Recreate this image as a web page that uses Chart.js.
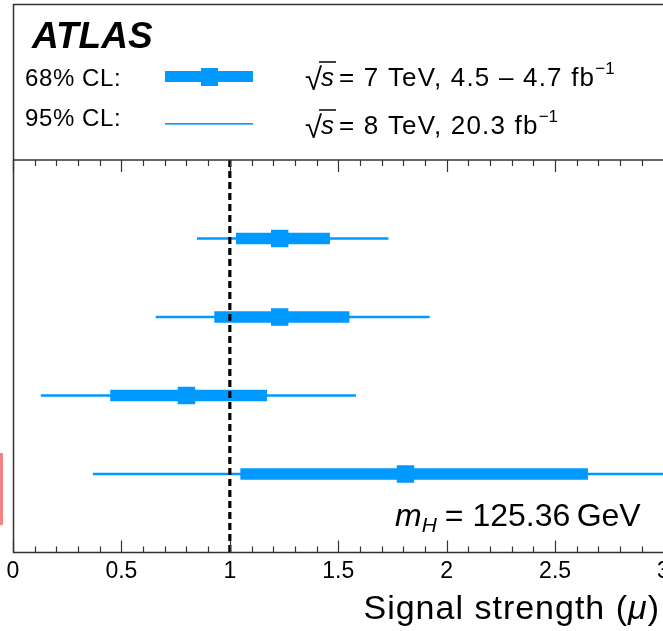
<!DOCTYPE html>
<html>
<head>
<meta charset="utf-8">
<script src="https://cdn.jsdelivr.net/npm/chart.js@4/dist/chart.umd.min.js"></script>
<style>
  html, body { margin: 0; padding: 0; background: #fff; overflow: hidden; }
  #wrap { position: relative; width: 680px; height: 631px; }
  #cut { position: absolute; left: 0; top: 453px; width: 3px; height: 72px; background: #f58383; }
</style>
</head>
<body>
<div id="wrap">
  <canvas id="chart"></canvas>
  <div id="cut"></div>
</div>
<script>
// Signal strengths per production mode (rows top to bottom)
const categories = ['ggF', 'VBF', 'VH', 'ttH'];
const mu = [1.23, 1.23, 0.80, 1.81];
const lo68 = [1.03, 0.93, 0.45, 1.05];
const hi68 = [1.46, 1.55, 1.17, 2.65];
const lo95 = [0.85, 0.66, 0.13, 0.37];
const hi95 = [1.73, 1.92, 1.58, 3.30];
const xTicks = [0, 0.5, 1, 1.5, 2, 2.5, 3];
const smRef = 1;

const BLUE = '#0099ff';
const FONT = '"Liberation Sans", Arial, Helvetica, sans-serif';

// frame, ticks and all the text around the plot
const decorations = {
    id: 'decorations',
    afterDraw(chart) {
        const ctx = chart.ctx;
        const area = chart.chartArea;
        const xs = chart.scales.x;
        ctx.save();

        // legend box + plot frame
        ctx.strokeStyle = '#333';
        ctx.lineWidth = 1.5;
        ctx.strokeRect(13.5, 4.5, 700, area.top - 4.5);
        ctx.beginPath();
        ctx.moveTo(13.5, area.top);
        ctx.lineTo(13.5, area.bottom);
        ctx.lineTo(chart.width, area.bottom);
        ctx.stroke();

        // minor and major ticks on top and bottom
        ctx.lineWidth = 1.2;
        for (let i = 0; i <= 30; i++) {
            const px = Math.round(xs.getPixelForValue(i / 10)) + 0.5;
            const len = i % 5 === 0 ? 12 : 6;
            ctx.beginPath();
            ctx.moveTo(px, area.bottom);
            ctx.lineTo(px, area.bottom - len);
            ctx.moveTo(px, area.top);
            ctx.lineTo(px, area.top + len);
            ctx.stroke();
        }

        ctx.fillStyle = '#000';
        ctx.textBaseline = 'alphabetic';
        ctx.textAlign = 'left';

        ctx.font = 'italic bold 37px ' + FONT;
        ctx.fillText('ATLAS', 32, 48);

        ctx.font = '24px ' + FONT;
        ctx.letterSpacing = '0.6px';
        ctx.fillText('68% CL:', 25, 86);
        ctx.fillText('95% CL:', 25, 126);
        ctx.letterSpacing = '0px';

        // legend symbols
        ctx.fillStyle = BLUE;
        ctx.fillRect(165, 71, 88, 11);
        ctx.fillRect(201, 68, 17, 18);
        ctx.fillRect(165, 123, 88, 1.6);

        ctx.fillStyle = '#000';
        drawSqrtLine(ctx, 305, 86, '7 TeV, 4.5 \u2013 4.7 fb');
        drawSqrtLine(ctx, 305, 134, '8 TeV, 20.3 fb');

        // m_H label
        let x = 395;
        const yb = 526;
        ctx.font = 'italic 32px ' + FONT;
        ctx.fillText('m', x, yb);
        x += ctx.measureText('m').width;
        ctx.font = 'italic 21px ' + FONT;
        ctx.fillText('H', x, yb + 6);
        x += ctx.measureText('H').width + 8;
        ctx.font = '32px ' + FONT;
        ctx.fillText('= 125.36\u2009GeV', x, yb);

        // axis title, right aligned
        ctx.letterSpacing = '1px';
        const t1 = 'Signal strength (';
        ctx.font = 'italic 34px ' + FONT;
        const wMu = ctx.measureText('\u03bc').width;
        ctx.font = '34px ' + FONT;
        const w1 = ctx.measureText(t1).width;
        const w2 = ctx.measureText(')').width;
        let tx = 660 - w1 - wMu - w2;
        ctx.fillText(t1, tx, 619);
        tx += w1;
        ctx.font = 'italic 34px ' + FONT;
        ctx.fillText('\u03bc', tx, 619);
        tx += wMu;
        ctx.font = '34px ' + FONT;
        ctx.fillText(')', tx, 619);
        ctx.letterSpacing = '0px';

        ctx.restore();
    }
};

function drawSqrtLine(ctx, x, y, rest) {
    ctx.font = '31px ' + FONT;
    ctx.fillText('\u221a', x, y + 4);
    x += ctx.measureText('\u221a').width - 2;
    ctx.font = 'italic 26px ' + FONT;
    const ws = ctx.measureText('s').width;
    ctx.fillText('s', x + 1, y);
    ctx.lineWidth = 1.5;
    ctx.strokeStyle = '#000';
    ctx.beginPath();
    ctx.moveTo(x - 1, y - 24);
    ctx.lineTo(x + ws + 3, y - 24);
    ctx.stroke();
    x += ws + 6;
    ctx.font = '26px ' + FONT;
    ctx.letterSpacing = '1.2px';
    const txt = '= ' + rest;
    ctx.fillText(txt, x, y);
    x += ctx.measureText(txt).width;
    ctx.letterSpacing = '0px';
    ctx.font = '17px ' + FONT;
    ctx.fillText('\u22121', x, y - 12);
}

const rows = categories.map((c, i) => i + 1);

new Chart(document.getElementById('chart'), {
    type: 'bar',
    data: {
        datasets: [
            {
                label: '95% CL',
                data: rows.map((r, i) => ({ y: r, x: [lo95[i], hi95[i]] })),
                backgroundColor: BLUE,
                barThickness: 1.6,
                grouped: false,
                order: 3
            },
            {
                label: '68% CL',
                data: rows.map((r, i) => ({ y: r, x: [lo68[i], hi68[i]] })),
                backgroundColor: BLUE,
                barThickness: 11,
                grouped: false,
                order: 2
            },
            {
                type: 'scatter',
                label: 'best fit',
                data: rows.map((r, i) => ({ y: r, x: mu[i] })),
                pointStyle: 'rect',
                pointRadius: 12.3,
                backgroundColor: BLUE,
                borderWidth: 0,
                order: 1
            },
            {
                type: 'line',
                label: 'SM',
                data: [{ x: smRef, y: 0 }, { x: smRef, y: 5 }],
                borderColor: '#000',
                borderWidth: 3.2,
                borderDash: [7, 4],
                pointRadius: 0,
                order: 0
            }
        ]
    },
    options: {
        indexAxis: 'y',
        responsive: true,
        maintainAspectRatio: false,
        devicePixelRatio: 1,
        animation: false,
        layout: { padding: { left: 13, top: 160, right: 16.5, bottom: 0 } },
        plugins: {
            legend: { display: false },
            tooltip: { enabled: false }
        },
        scales: {
            x: {
                type: 'linear',
                min: 0,
                max: 3,
                afterBuildTicks: s => { s.ticks = xTicks.map(v => ({ value: v })); },
                afterFit: s => { s.height = 78.5; },
                grid: { display: false, drawTicks: false },
                border: { display: false },
                ticks: {
                    color: '#000',
                    padding: 5,
                    maxRotation: 0,
                    callback: v => String(v),
                    font: { family: FONT, size: 23 }
                }
            },
            y: {
                type: 'linear',
                min: 0,
                max: 5,
                reverse: true,
                offset: false,
                display: false
            }
        }
    },
    plugins: [decorations]
});
</script>
</body>
</html>
